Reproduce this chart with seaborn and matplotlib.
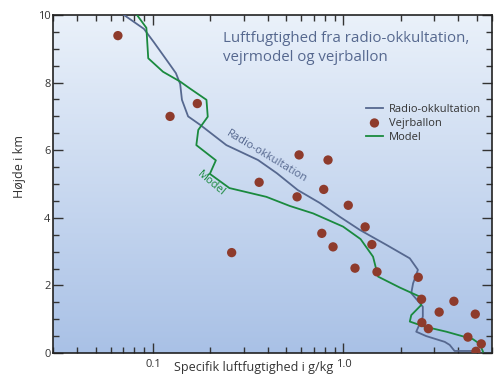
import numpy as np
import pandas as pd
import matplotlib
matplotlib.use("Agg")
import matplotlib.pyplot as plt
import seaborn as sns
from matplotlib.ticker import LogLocator, NullFormatter, FixedLocator, FixedFormatter

# Radio-okkultation profile (g/kg, km)
radio_q = [0.0705, 0.0897, 0.101, 0.120, 0.132, 0.139, 0.142, 0.153, 0.177, 0.243,
           0.356, 0.447, 0.576, 0.751, 0.957, 1.22, 1.68, 2.23, 2.46, 2.32,
           2.27, 2.61, 2.61, 2.41, 2.72, 3.40, 3.61, 3.83, 5.0]
radio_h = [10.0, 9.59, 9.20, 8.61, 8.28, 7.96, 7.49, 7.0, 6.75, 6.15,
           5.71, 5.32, 4.82, 4.44, 4.03, 3.64, 3.20, 2.80, 2.46, 2.06,
           1.77, 1.37, 1.07, 0.63, 0.50, 0.33, 0.24, 0.06, 0.06]

# Model profile
model_q = [0.0825, 0.0924, 0.0945, 0.113, 0.139, 0.156, 0.191, 0.194, 0.173, 0.169,
           0.214, 0.199, 0.252, 0.394, 0.523, 0.693, 0.995, 1.23, 1.43, 1.52,
           1.97, 2.51, 2.56, 2.27, 2.23, 2.67, 3.47, 4.78, 5.19, 5.40]
model_h = [10.0, 9.62, 8.72, 8.32, 8.03, 7.83, 7.49, 6.99, 6.60, 6.15,
           5.70, 5.30, 4.88, 4.62, 4.35, 4.13, 3.74, 3.37, 2.85, 2.26,
           1.94, 1.67, 1.42, 1.12, 0.93, 0.78, 0.63, 0.41, 0.27, 0.04]

# Vejrballon measurements
ballon_q = [0.0655, 0.171, 0.123, 0.259, 0.585, 0.83, 0.361, 0.788, 0.571, 1.06,
            1.30, 0.77, 1.41, 0.882, 1.15, 1.50, 2.47, 2.57, 3.80, 3.18,
            4.92, 2.58, 2.79, 4.50, 5.29, 4.96]
ballon_h = [9.39, 7.38, 7.0, 2.97, 5.86, 5.71, 5.05, 4.84, 4.62, 4.37,
            3.73, 3.54, 3.21, 3.14, 2.51, 2.40, 2.24, 1.59, 1.53, 1.21,
            1.15, 0.90, 0.72, 0.47, 0.27, 0.05]

blue = "#56688f"
green = "#1a8a3e"
red = "#8e3b2c"
txt = "#333333"

plt.rcParams["font.family"] = ["Open Sans", "DejaVu Sans"]

fig = plt.figure(figsize=(4.96, 3.76), dpi=100)
ax = fig.add_axes([53.3 / 496, 1 - 353 / 376, 438.4 / 496, 338 / 376])

# background gradient, light at the top
grad = np.linspace(0, 1, 256).reshape(-1, 1)
cmap = matplotlib.colors.LinearSegmentedColormap.from_list("bg", ["#eaf1fa", "#a9c1e6"])
ax.imshow(grad, aspect="auto", cmap=cmap, extent=[0, 1, 0, 1],
          transform=ax.transAxes, zorder=0)

radio = pd.DataFrame({"q": radio_q, "h": radio_h})
model = pd.DataFrame({"q": model_q, "h": model_h})
ballon = pd.DataFrame({"q": ballon_q, "h": ballon_h})

sns.lineplot(data=radio, x="q", y="h", sort=False, estimator=None, color=blue,
             lw=1.3, label="Radio-okkultation", ax=ax, zorder=3)
sns.scatterplot(data=ballon, x="q", y="h", color=red, s=45, edgecolor="none",
                label="Vejrballon", ax=ax, zorder=4)
sns.lineplot(data=model, x="q", y="h", sort=False, estimator=None, color=green,
             lw=1.3, label="Model", ax=ax, zorder=3)

ax.set_xscale("log")
ax.set_xlim(0.03, 6.0)
ax.set_ylim(0, 10)

ax.xaxis.set_major_locator(FixedLocator([0.1, 1.0]))
ax.xaxis.set_major_formatter(FixedFormatter(["0.1", "1.0"]))
ax.xaxis.set_minor_locator(LogLocator(base=10, subs=np.arange(2, 10)))
ax.xaxis.set_minor_formatter(NullFormatter())
ax.set_yticks([0, 2, 4, 6, 8, 10])
ax.set_yticks(np.arange(0, 10.01, 0.5), minor=True)

ax.tick_params(which="both", direction="in", top=True, right=True,
               colors=txt, labelsize=8, width=1.0)
ax.tick_params(which="major", length=7.5)
ax.tick_params(which="minor", length=4.3)
ax.tick_params(axis="y", pad=2)
ax.tick_params(axis="x", pad=4)
for s in ax.spines.values():
    s.set_color("#222222")
    s.set_linewidth(1.2)

ax.set_xlabel("")
ax.set_ylabel("")
fig.text(254 / 496, 1 - 368 / 376, "Specifik luftfugtighed i g/kg",
         ha="center", va="center", fontsize=9, color=txt)
fig.text(20 / 496, 1 - 167 / 376, "Højde i km", rotation=90,
         ha="center", va="center", fontsize=9, color=txt)

ax.text(0.387, 0.952, "Luftfugtighed fra radio-okkultation,\nvejrmodel og vejrballon",
        transform=ax.transAxes, ha="left", va="top", fontsize=10.8,
        color="#56688f", linespacing=1.35)

ax.text(0.396, 5.80, "Radio-okkultation", rotation=-31, color=blue, fontsize=8,
        ha="center", va="center", rotation_mode="anchor")
ax.text(0.201, 5.01, "Model", rotation=-40, color=green, fontsize=8,
        ha="center", va="center", rotation_mode="anchor")

leg = ax.legend(loc="upper left", bbox_to_anchor=((360 - 53.3) / 438.4, (353 - 98) / 338),
                frameon=False, fontsize=8, handlelength=1.6, handletextpad=0.5,
                labelspacing=0.3, borderpad=0)
for t in leg.get_texts():
    t.set_color(txt)

fig.savefig("out.png", dpi=100)
